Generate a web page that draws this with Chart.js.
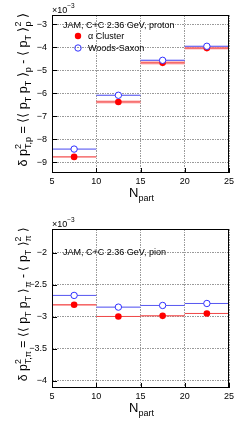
<!DOCTYPE html>
<html>
<head>
<meta charset="utf-8">
<title>JAM C+C 2.36 GeV</title>
<script src="https://cdn.jsdelivr.net/npm/chart.js"></script>
<style>
  body { margin: 0; background: #fff; }
  canvas { display: block; }
</style>
</head>
<body>
<canvas id="protonChart" width="244" height="215"></canvas>
<canvas id="pionChart" width="244" height="215"></canvas>
<script>
// data (values in units of 1e-3)
const binEdges = [5, 10, 15, 20, 25];
const npartCenters = [7.5, 12.5, 17.5, 22.5];
const xTicks = [5, 10, 15, 20, 25];

const protonAlpha = [-8.77, -6.38, -4.68, -4.04];
const protonAlphaErr = [0.02, 0.065, 0.07, 0.06];
const protonWS = [-8.43, -6.09, -4.57, -3.96];
const protonWSErr = [0.015, 0.02, 0.03, 0.02];
const protonYTicks = [-9, -8, -7, -6, -5, -4, -3];

const pionAlpha = [-2.815, -2.997, -2.987, -2.95];
const pionAlphaErr = [0.012, 0.005, 0.006, 0.005];
const pionWS = [-2.668, -2.851, -2.825, -2.794];
const pionWSErr = [0.004, 0.004, 0.004, 0.004];
const pionYTicks = [-4, -3.5, -3, -2.5, -2];

const FONT = '"Liberation Sans", Arial, Helvetica, sans-serif';
const RED = '#ff0000', RED_LINE = '#f04848', RED_BAND = 'rgba(255,150,150,0.75)';
const BLUE = '#3030ff', BLUE_LINE = '#5858f0', BLUE_BAND = 'rgba(150,150,255,0.5)';

function binLine(vals) {
  const out = [];
  vals.forEach((v, i) => {
    out.push({x: binEdges[i], y: v}, {x: binEdges[i + 1], y: v}, {x: binEdges[i + 1], y: null});
  });
  return out;
}

function richText(ctx, parts, F, measureOnly) {
  // parts: [text, kind] kind: 'n' | 'sub' | 'ss' (sup/sub stacked, text = [sup, sub])
  let x = 0;
  for (const [t, kind] of parts) {
    if (kind === 'n') {
      ctx.font = F + 'px ' + FONT;
      if (!measureOnly) ctx.fillText(t, x, 0);
      x += ctx.measureText(t).width;
    } else if (kind === 'sub') {
      ctx.font = (F * 0.72) + 'px ' + FONT;
      if (!measureOnly) ctx.fillText(t, x, F * 0.3);
      x += ctx.measureText(t).width;
    } else {
      ctx.font = (F * 0.72) + 'px ' + FONT;
      if (!measureOnly) {
        ctx.fillText(t[0], x, -F * 0.45);
        ctx.fillText(t[1], x, F * 0.3);
      }
      x += Math.max(ctx.measureText(t[0]).width, ctx.measureText(t[1]).width);
    }
  }
  return x;
}

function makeChart(id, o) {
  const decor = {
    id: 'decor',
    beforeDatasetsDraw(chart) {
      const {ctx, scales: {x, y}} = chart;
      ctx.save();
      const bands = [[o.ws, o.wsErr, BLUE_BAND], [o.alpha, o.alphaErr, RED_BAND]];
      for (const [vals, errs, col] of bands) {
        ctx.fillStyle = col;
        vals.forEach((v, i) => {
          const x0 = x.getPixelForValue(binEdges[i]), x1 = x.getPixelForValue(binEdges[i + 1]);
          const y0 = y.getPixelForValue(v + errs[i]), y1 = y.getPixelForValue(v - errs[i]);
          ctx.fillRect(x0, y0, x1 - x0, Math.max(y1 - y0, 0.6));
        });
      }
      ctx.restore();
    },
    afterDraw(chart) {
      const {ctx, chartArea: a, scales: {x, y}} = chart;
      ctx.save();
      // frame
      ctx.strokeStyle = '#000';
      ctx.lineWidth = 1;
      ctx.strokeRect(Math.round(a.left) + 0.5, Math.round(a.top) + 0.5,
        Math.round(a.right - a.left) - 1, Math.round(a.bottom - a.top) - 1);
      // inward ticks
      ctx.beginPath();
      for (const v of o.yTicks) {
        const py = Math.round(y.getPixelForValue(v)) + 0.5;
        ctx.moveTo(a.left, py); ctx.lineTo(a.left + 5, py);
      }
      for (const v of xTicks) {
        const px = Math.round(x.getPixelForValue(v)) + 0.5;
        ctx.moveTo(px, a.bottom); ctx.lineTo(px, a.bottom - 5);
      }
      ctx.stroke();

      ctx.fillStyle = '#000';
      ctx.textAlign = 'left';
      ctx.textBaseline = 'alphabetic';
      // exponent label
      ctx.font = '9px ' + FONT;
      ctx.fillText('×10', a.left, a.top - 2);
      const w10 = ctx.measureText('×10').width;
      ctx.font = '6.5px ' + FONT;
      ctx.fillText('−3', a.left + w10, a.top - 7);

      // header and legend
      ctx.font = '9px ' + FONT;
      ctx.fillText(o.header, a.left + 11, o.headerY);
      if (o.legend) {
        ctx.fillText('α Cluster', a.left + 36, a.top + 24);
        ctx.fillText('Woods-Saxon', a.left + 36, a.top + 36);
        ctx.beginPath();
        ctx.arc(a.left + 26, a.top + 21, 3.2, 0, Math.PI * 2);
        ctx.fillStyle = RED; ctx.fill();
        ctx.beginPath();
        ctx.arc(a.left + 26, a.top + 33, 3.2, 0, Math.PI * 2);
        ctx.strokeStyle = BLUE; ctx.lineWidth = 1; ctx.stroke();
        ctx.fillStyle = '#000';
      }

      // x title
      ctx.font = '13px ' + FONT;
      const wN = ctx.measureText('N').width;
      ctx.font = '9px ' + FONT;
      const wP = ctx.measureText('part').width;
      const xs = (a.left + a.right) / 2 - (wN + wP) / 2 + 1;
      ctx.font = '13px ' + FONT;
      ctx.fillText('N', xs, a.bottom + 24);
      ctx.font = '9px ' + FONT;
      ctx.fillText('part', xs + wN, a.bottom + 28);

      // y title, rotated, right-aligned at the top
      const target = 155;
      let F = 12;
      const W0 = richText(ctx, o.yTitle, F, true);
      F = F * target / W0;
      const W = richText(ctx, o.yTitle, F, true);
      ctx.translate(27, a.top - 2);
      ctx.rotate(-Math.PI / 2);
      ctx.translate(-W, 0);
      richText(ctx, o.yTitle, F, false);
      ctx.restore();
    }
  };

  return new Chart(document.getElementById(id), {
    type: 'scatter',
    data: {
      datasets: [
        {type: 'line', data: binLine(o.ws), borderColor: BLUE_LINE, borderWidth: 1,
         pointRadius: 0, spanGaps: false, order: 4},
        {type: 'line', data: binLine(o.alpha), borderColor: RED_LINE, borderWidth: 1,
         pointRadius: 0, spanGaps: false, order: 3},
        {label: 'α Cluster', data: npartCenters.map((c, i) => ({x: c, y: o.alpha[i]})),
         pointRadius: 3.3, pointBackgroundColor: RED, pointBorderColor: RED, pointBorderWidth: 0, order: 2},
        {label: 'Woods-Saxon', data: npartCenters.map((c, i) => ({x: c, y: o.ws[i]})),
         pointRadius: 3.2, pointBackgroundColor: '#fff', pointBorderColor: BLUE, pointBorderWidth: 1, order: 1}
      ]
    },
    options: {
      responsive: false,
      animation: false,
      layout: {padding: {top: o.padTop, right: 15, left: 0, bottom: 0}},
      plugins: {legend: {display: false}, tooltip: {enabled: false}},
      scales: {
        x: {
          type: 'linear', min: 5, max: 25,
          afterFit: s => { s.height = 42; },
          afterBuildTicks: s => { s.ticks = xTicks.map(v => ({value: v})); },
          grid: {color: '#9a9a9a', drawTicks: false, lineWidth: 1},
          border: {display: false, dash: [2, 1, 1, 1]},
          ticks: {padding: 3, color: '#000', font: {family: FONT, size: 9}, maxRotation: 0}
        },
        y: {
          type: 'linear', min: o.yMin, max: o.yMax,
          afterFit: s => { s.width = 52; },
          afterBuildTicks: s => { s.ticks = o.yTicks.map(v => ({value: v})); },
          grid: {color: '#9a9a9a', drawTicks: false, lineWidth: 1},
          border: {display: false, dash: [2, 1, 1, 1]},
          ticks: {padding: 5, color: '#000', font: {family: FONT, size: 9},
                  callback: v => (v < 0 ? '−' : '') + Math.abs(v)}
        }
      }
    },
    plugins: [decor]
  });
}

makeChart('protonChart', {
  alpha: protonAlpha, alphaErr: protonAlphaErr, ws: protonWS, wsErr: protonWSErr,
  yTicks: protonYTicks, yMin: -9.47, yMax: -2.6, padTop: 15,
  header: 'JAM, C+C 2.36 GeV, proton', headerY: 28, legend: true,
  yTitle: [['δ p', 'n'], [['2', 'T,p'], 'ss'], [' = ⟨⟨ p', 'n'], ['T', 'sub'], [' p', 'n'], ['T', 'sub'],
           [' ⟩', 'n'], ['p', 'sub'], [' - ⟨ p', 'n'], ['T', 'sub'], [' ⟩', 'n'], [['2', 'p'], 'ss'], [' ⟩', 'n']]
});

makeChart('pionChart', {
  alpha: pionAlpha, alphaErr: pionAlphaErr, ws: pionWS, wsErr: pionWSErr,
  yTicks: pionYTicks, yMin: -4.115, yMax: -1.63, padTop: 14,
  header: 'JAM, C+C 2.36 GeV, pion', headerY: 40, legend: false,
  yTitle: [['δ p', 'n'], [['2', 'T,π'], 'ss'], [' = ⟨⟨ p', 'n'], ['T', 'sub'], [' p', 'n'], ['T', 'sub'],
           [' ⟩', 'n'], ['π', 'sub'], [' - ⟨ p', 'n'], ['T', 'sub'], [' ⟩', 'n'], [['2', 'π'], 'ss'], [' ⟩', 'n']]
});
</script>
</body>
</html>
